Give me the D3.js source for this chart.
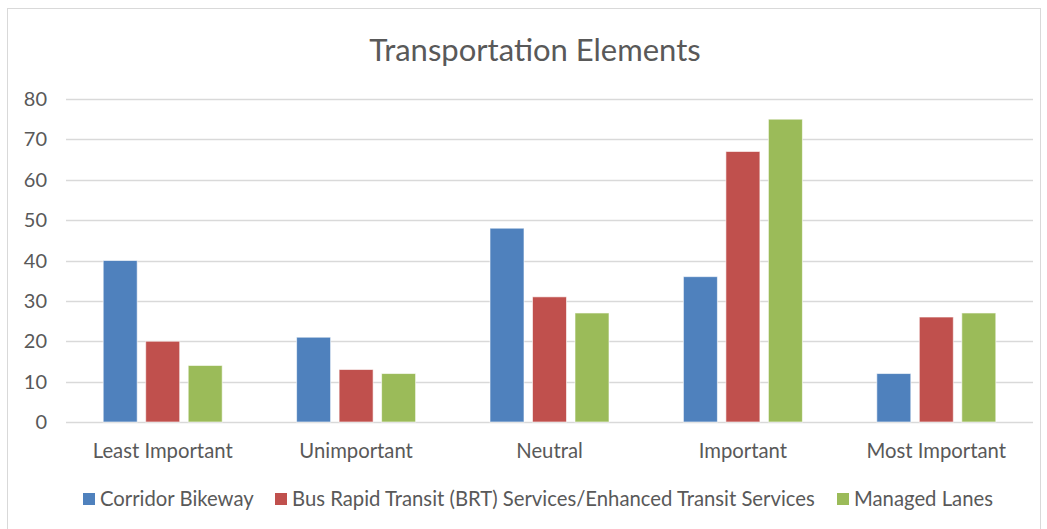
<!DOCTYPE html>
<html>
<head>
<meta charset="utf-8">
<script src="https://cdn.jsdelivr.net/npm/d3@7"></script>
<style>
  html, body { margin: 0; padding: 0; background: #fff; }
  svg { display: block; font-family: Lato, "Open Sans", sans-serif; }
</style>
</head>
<body>
<div id="chart"></div>
<script>
const categories = ['Least Important', 'Unimportant', 'Neutral', 'Important', 'Most Important'];
const seriesNames = [
  'Corridor Bikeway',
  'Bus Rapid Transit (BRT) Services/Enhanced Transit Services',
  'Managed Lanes'
];
const bikeway = [40, 21, 48, 36, 12];
const brt = [20, 13, 31, 67, 26];
const managedLanes = [14, 12, 27, 75, 27];
const yTicks = [0, 10, 20, 30, 40, 50, 60, 70, 80];
const colors = ['#4F81BD', '#C0504D', '#9BBB59'];

const width = 1047;
const height = 529;
const margin = { top: 99, right: 14, bottom: 107, left: 66 };

const svg = d3.select('#chart').append('svg')
  .attr('width', width)
  .attr('height', height);

// chart frame
svg.append('rect')
  .attr('x', 7.5).attr('y', 8.5)
  .attr('width', 1033).attr('height', 540)
  .attr('fill', '#fff')
  .attr('stroke', '#D9D9D9');

const x0 = d3.scaleBand()
  .domain(categories)
  .range([margin.left, width - margin.right]);

const groupWidth = 119;
const x1 = d3.scaleBand()
  .domain(d3.range(seriesNames.length))
  .range([(x0.bandwidth() - groupWidth) / 2, (x0.bandwidth() + groupWidth) / 2])
  .paddingInner(0.2);

const y = d3.scaleLinear()
  .domain([0, 80])
  .range([height - margin.bottom, margin.top]);

// gridlines
svg.append('g')
  .selectAll('line')
  .data(yTicks)
  .join('line')
    .attr('x1', margin.left)
    .attr('x2', width - margin.right)
    .attr('y1', d => Math.round(y(d)) + 0.5)
    .attr('y2', d => Math.round(y(d)) + 0.5)
    .attr('stroke', '#D9D9D9')
    .attr('stroke-width', 1.3);

// y labels
svg.append('g')
  .selectAll('text')
  .data(yTicks)
  .join('text')
    .attr('x', 47)
    .attr('y', d => y(d))
    .attr('dy', '0.35em')
    .attr('text-anchor', 'end')
    .attr('fill', '#595959')
    .style('font-size', '20px')
    .text(d => d);

// bars
const values = [bikeway, brt, managedLanes];
const groups = svg.append('g')
  .selectAll('g')
  .data(categories)
  .join('g')
    .attr('transform', d => `translate(${x0(d)},0)`);

groups.selectAll('rect')
  .data((d, i) => values.map((s, j) => ({ s: j, v: s[i] })))
  .join('rect')
    .attr('x', d => x1(d.s))
    .attr('width', x1.bandwidth())
    .attr('y', d => y(d.v))
    .attr('height', d => y(0) - y(d.v))
    .attr('fill', d => colors[d.s])
    .attr('stroke', '#fff')
    .attr('stroke-opacity', 0.6)
    .attr('stroke-width', 1);

// category labels
svg.append('g')
  .selectAll('text')
  .data(categories)
  .join('text')
    .attr('x', d => x0(d) + x0.bandwidth() / 2)
    .attr('y', 451)
    .attr('dy', '0.35em')
    .attr('text-anchor', 'middle')
    .attr('fill', '#595959')
    .style('font-size', '20.3px')
    .text(d => d);

// title
svg.append('text')
  .attr('x', 535)
  .attr('y', 50)
  .attr('dy', '0.35em')
  .attr('text-anchor', 'middle')
  .attr('fill', '#595959')
  .style('font-size', '31px')
  .text('Transportation Elements');

// legend
const legendX = [83, 275, 837];
const legend = svg.append('g')
  .selectAll('g')
  .data(seriesNames)
  .join('g')
    .attr('transform', (d, i) => `translate(${legendX[i]},499)`);

legend.append('rect')
  .attr('x', 0).attr('y', -6)
  .attr('width', 12).attr('height', 12)
  .attr('fill', (d, i) => colors[i]);

legend.append('text')
  .attr('x', 17)
  .attr('dy', '0.35em')
  .attr('fill', '#595959')
  .style('font-size', '20.3px')
  .text(d => d);
</script>
</body>
</html>
